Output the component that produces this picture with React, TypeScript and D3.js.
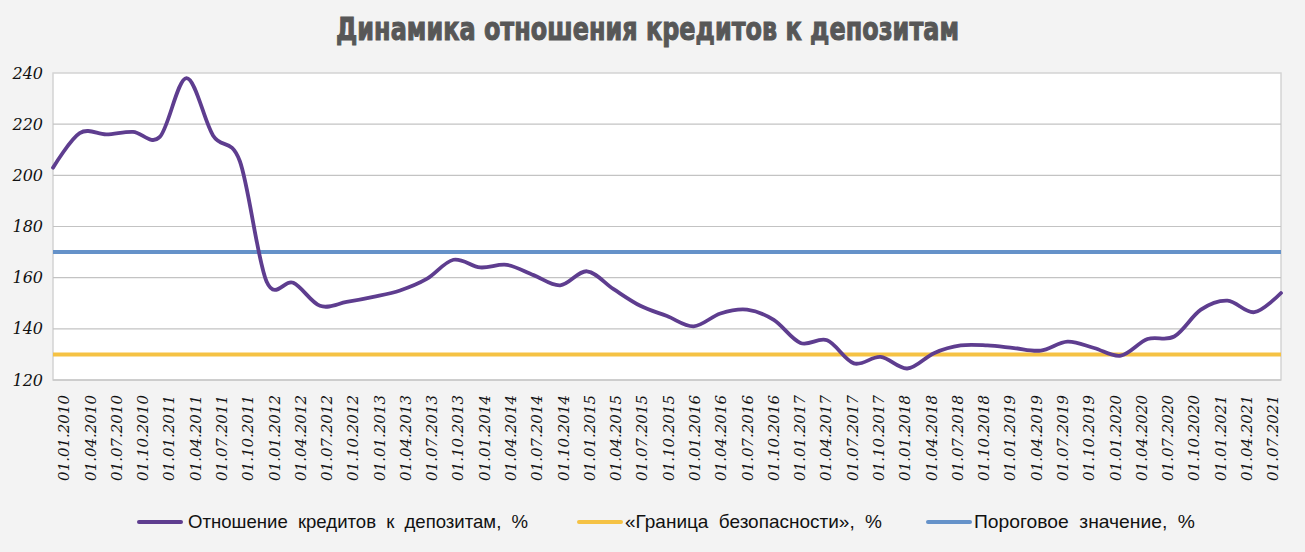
import React from "react";
import * as d3 from "d3";

const categories: string[] = [
  "01.01.2010","01.04.2010","01.07.2010","01.10.2010",
  "01.01.2011","01.04.2011","01.07.2011","01.10.2011",
  "01.01.2012","01.04.2012","01.07.2012","01.10.2012",
  "01.01.2013","01.04.2013","01.07.2013","01.10.2013",
  "01.01.2014","01.04.2014","01.07.2014","01.10.2014",
  "01.01.2015","01.04.2015","01.07.2015","01.10.2015",
  "01.01.2016","01.04.2016","01.07.2016","01.10.2016",
  "01.01.2017","01.04.2017","01.07.2017","01.10.2017",
  "01.01.2018","01.04.2018","01.07.2018","01.10.2018",
  "01.01.2019","01.04.2019","01.07.2019","01.10.2019",
  "01.01.2020","01.04.2020","01.07.2020","01.10.2020",
  "01.01.2021","01.04.2021","01.07.2021",
];

const ratioValues: number[] = [
  203, 216.5, 216, 217,
  215, 238, 215.5, 205.5,
  158.5, 158, 149, 150.5,
  152.5, 155, 159.5, 167,
  164, 165, 161, 157,
  162.5, 155.5, 149, 145,
  141, 146, 147.5, 143.5,
  134.5, 135.5, 126.5, 129,
  124.5, 130.5, 133.5, 133.5,
  132.5, 131.5, 135, 132.5,
  129.5, 136, 137, 147.5,
  151, 146.5, 154,
];

const safetyBound: number[] = categories.map(() => 130);
const thresholdValue: number[] = categories.map(() => 170);

const yTicks: number[] = [120, 140, 160, 180, 200, 220, 240];

const seriesNames: string[] = [
  "Отношение кредитов к депозитам, %",
  "«Граница безопасности», %",
  "Пороговое значение, %",
];
const seriesColors: string[] = ["#5e3d8f", "#f5c244", "#6592c9"];

const title = "Динамика отношения кредитов к депозитам";

export default function App() {
  const W = 1305, H = 552;
  const left = 53, right = 1281, top = 73, bottom = 380;

  const x = d3.scalePoint<string>().domain(categories).range([left, right]);
  const xLabel = d3.scalePoint<string>().domain(categories).range([64, 1273]);
  const y = d3.scaleLinear().domain([120, 240]).range([bottom, top]);

  const smooth = d3
    .line<number>()
    .x((_, i) => x(categories[i]) as number)
    .y((d) => y(d))
    .curve(d3.curveCardinal.tension(0));
  const straight = d3
    .line<number>()
    .x((_, i) => x(categories[i]) as number)
    .y((d) => y(d));

  const legendItems = [
    { lx: 139, tx: 188, tw: 340 },
    { lx: 579, tx: 625, tw: 257 },
    { lx: 928, tx: 974, tw: 221 },
  ];
  const legendY = 522;
  const serif = "'DejaVu Serif', serif";

  return (
    <svg
      width={W}
      height={H}
      style={{ position: "absolute", left: 0, top: 0, display: "block" }}
    >
      <rect x={0} y={0} width={W} height={H} fill="#f3f3f3" />
      <text
        x={336}
        y={40}
        textLength={623}
        lengthAdjust="spacingAndGlyphs"
        fontFamily="'DejaVu Sans', sans-serif"
        fontWeight="bold"
        fontSize={31.5}
        fill="#575757"
        stroke="#575757"
        strokeWidth={1.1}
      >
        {title}
      </text>

      <rect
        x={left}
        y={top}
        width={right - left}
        height={bottom - top}
        fill="#ffffff"
        stroke="#d4d4d4"
        strokeWidth={1.5}
      />
      {yTicks.map((t) => (
        <g key={t}>
          {t !== 120 && t !== 240 && (
            <line x1={left} x2={right} y1={y(t)} y2={y(t)} stroke="#c3c3c3" strokeWidth={1.2} />
          )}
          <text
            x={43}
            y={y(t)}
            dy="0.35em"
            textAnchor="end"
            fontFamily={serif}
            fontStyle="italic"
            fontSize={16}
            fill="#111"
          >
            {t}
          </text>
        </g>
      ))}
      <line x1={left} x2={right} y1={bottom} y2={bottom} stroke="#c8c8c8" strokeWidth={1.5} />

      {categories.map((c) => (
        <text
          key={c}
          transform={`translate(${xLabel(c)},395) rotate(-90)`}
          dy="0.35em"
          textAnchor="end"
          fontFamily={serif}
          fontStyle="italic"
          fontSize={15}
          fill="#111"
        >
          {c}
        </text>
      ))}

      <path d={straight(safetyBound) || ""} fill="none" stroke={seriesColors[1]} strokeWidth={4} />
      <path d={straight(thresholdValue) || ""} fill="none" stroke={seriesColors[2]} strokeWidth={4} />
      <path
        d={smooth(ratioValues) || ""}
        fill="none"
        stroke={seriesColors[0]}
        strokeWidth={3.8}
        strokeLinejoin="round"
        strokeLinecap="round"
      />

      {legendItems.map((it, i) => (
        <g key={i}>
          <line
            x1={it.lx}
            x2={it.lx + 42}
            y1={legendY}
            y2={legendY}
            stroke={seriesColors[i]}
            strokeWidth={4}
            strokeLinecap="round"
          />
          <text
            x={it.tx}
            y={legendY}
            dy="0.35em"
            textLength={it.tw}
            lengthAdjust="spacingAndGlyphs"
            wordSpacing={5}
            fontFamily="'Liberation Sans', Arial, sans-serif"
            fontSize={18.5}
            fill="#111"
          >
            {seriesNames[i]}
          </text>
        </g>
      ))}
    </svg>
  );
}
